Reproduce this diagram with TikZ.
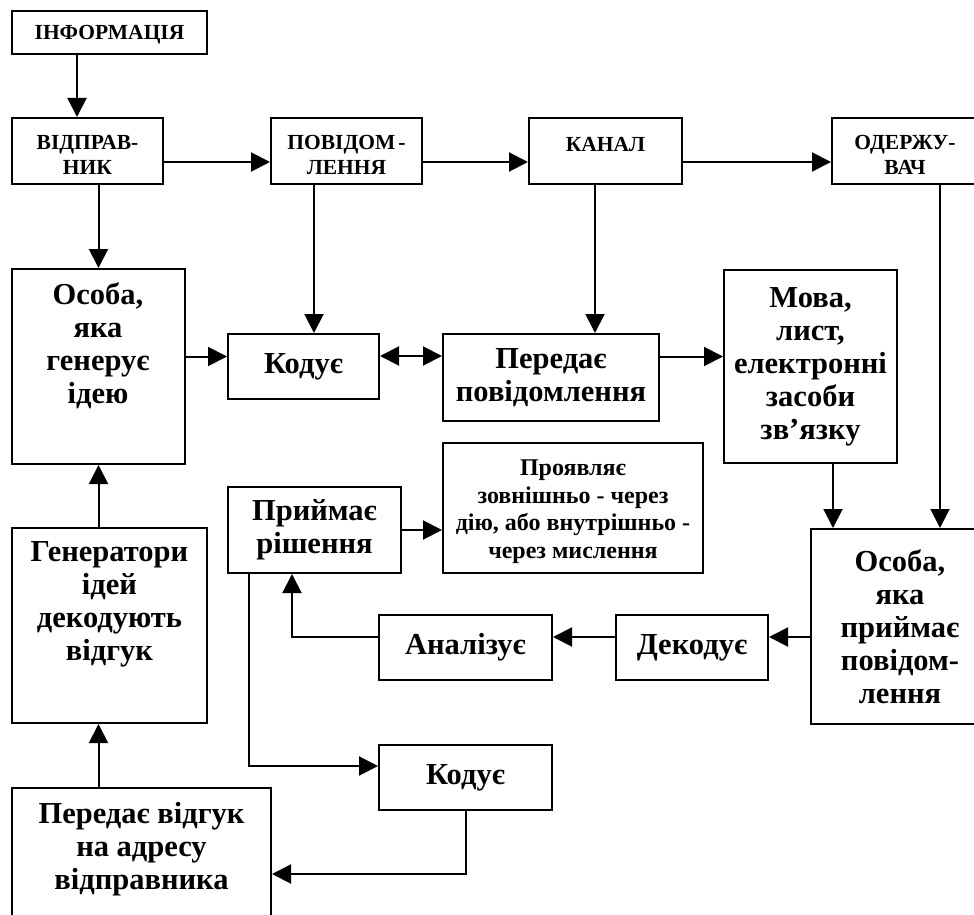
\documentclass[tikz,border=0pt]{standalone}
\usepackage{fontspec}
\setmainfont{Liberation Serif}
\usetikzlibrary{arrows.meta}
\newcommand{\uplift}[1]{\rule{0pt}{#1}}
\tikzset{
  box/.style={draw, line width=2pt, inner sep=0pt, align=center},
  bigtxt/.style={font=\bfseries\fontsize{30.5}{33}\selectfont, align=center, inner sep=0pt},
  captxt/.style={font=\bfseries\fontsize{21.5}{25}\selectfont, align=center, inner sep=0pt},
  midtxt/.style={font=\bfseries\fontsize{24}{27.7}\selectfont, align=center, inner sep=0pt},
  arr/.style={line width=2pt, -{Triangle[length=19pt,width=19pt]}},
  dblarr/.style={line width=2pt, {Triangle[length=19pt,width=19pt]}-{Triangle[length=19pt,width=19pt]}}
}
\begin{document}
\begin{tikzpicture}[x=1pt,y=-1pt]
\useasboundingbox (0,0) rectangle (974,915);
\clip (0,0) rectangle (974,915);
% top row
\node[box, captxt, minimum width=195pt, minimum height=43pt] (info) at (109.5,32.5) {\uplift{19pt}ІНФОРМАЦІЯ};
\node[box, captxt, minimum width=151pt, minimum height=66pt] (sender) at (87.5,151) {\uplift{22pt}ВІДПРАВ-\\НИК};
\node[box, captxt, minimum width=151pt, minimum height=66pt] (msg) at (346.5,151) {\uplift{22pt}ПОВІДОМ\kern3pt-\\ЛЕННЯ};
\node[box, minimum width=153pt, minimum height=66pt] (chan) at (605.5,151) {};
\node[captxt] (chantxt) at (605.5,145) {КАНАЛ};
\node[box, captxt, minimum width=146pt, minimum height=66pt] (recv) at (905,151) {\uplift{22pt}ОДЕРЖУ-\\ВАЧ};
% second row
\node[box, minimum width=173pt, minimum height=195pt] (idea) at (98.5,366.5) {};
\node[bigtxt] (ideatxt) at (98,346) {Особа,\\яка\\генерує\\ідею};
\node[box, bigtxt, minimum width=151pt, minimum height=65pt] (code1) at (303.5,366.5) {Кодує};
\node[box, bigtxt, minimum width=216pt, minimum height=87pt] (trans) at (551,377.5) {Передає\\повідомлення};
\node[box, bigtxt, minimum width=173pt, minimum height=193pt] (lang) at (810.5,366.5) {Мова,\\лист,\\електронні\\засоби\\зв’язку};
% third row
\node[box, bigtxt, minimum width=173pt, minimum height=86pt] (decide) at (314.5,530) {Приймає\\рішення};
\node[box, midtxt, minimum width=260pt, minimum height=130pt] (shows) at (573,508) {\uplift{23pt}Проявляє\\зовнішньо - через\\дію, або внутрішньо -\\через мислення};
\node[box, minimum width=195pt, minimum height=195pt] (gen) at (109.5,625.5) {};
\node[bigtxt] (gentxt) at (109.5,604) {Генератори\\ідей\\декодують\\відгук};
\node[box, bigtxt, minimum width=173pt, minimum height=65pt] (anal) at (465.5,647.5) {Аналізує};
\node[box, bigtxt, minimum width=152pt, minimum height=65pt] (decode) at (692,647.5) {Декодує};
\node[box, bigtxt, minimum width=178pt, minimum height=195pt] (person2) at (900,626.5) {Особа,\\яка\\приймає\\повідом-\\лення};
\node[box, bigtxt, minimum width=173pt, minimum height=65pt] (code2) at (465.5,777.5) {Кодує};
\node[box, minimum width=259pt, minimum height=142pt] (fb) at (141.5,859) {};
\node[bigtxt] (fbtxt) at (141.5,849) {Передає відгук\\на адресу\\відправника};
% connectors
\draw[arr] ([xshift=-32.5pt]info.south) -- ([xshift=-32.5pt]info.south |- sender.north);
\draw[arr] ([yshift=-11pt]sender.east) -- ([yshift=-11pt]msg.west);
\draw[arr] ([yshift=-11pt]msg.east) -- ([yshift=-11pt]chan.west);
\draw[arr] ([yshift=-11pt]chan.east) -- ([yshift=-11pt]recv.west);
\draw[arr] (sender.south -| idea.north) -- (idea.north);
\draw[arr] ([xshift=10.5pt]code1.north |- msg.south) -- ([xshift=10.5pt]code1.north);
\draw[arr] ([xshift=44pt]trans.north |- chan.south) -- ([xshift=44pt]trans.north);
\draw[arr] ([xshift=40pt]person2.north |- recv.south) -- ([xshift=40pt]person2.north);
\draw[arr] ([yshift=10pt]idea.east) -- ([yshift=10pt]code1.west);
\draw[dblarr] ([yshift=10.5pt]code1.east) -- ([yshift=10.5pt]code1.east -| trans.west);
\draw[arr] ([yshift=21pt]trans.east) -- ([yshift=21pt]trans.east -| lang.west);
\draw[arr] ([xshift=22.5pt]lang.south) -- ([xshift=22.5pt]lang.south |- person2.north);
\draw[arr] (gen.north -| idea.south) -- (idea.south);
\draw[arr] (fb.north -| idea.south) -- (gen.south -| idea.south);
\draw[arr] (decide.east) -- (decide.east -| shows.west);
\draw[arr] ([yshift=-10.5pt]person2.west) -- ([yshift=-10.5pt]person2.west -| decode.east);
\draw[arr] ([yshift=10.5pt]decode.west) -- ([yshift=10.5pt]anal.east);
\draw[arr] ([yshift=10.5pt]anal.west) -| ([xshift=-22.5pt]decide.south);
\draw[arr] ([xshift=-65.5pt]decide.south) |- ([yshift=11.5pt]code2.west);
\draw[arr] (code2.south) |- ([yshift=-15pt]fb.east);
\end{tikzpicture}
\end{document}
